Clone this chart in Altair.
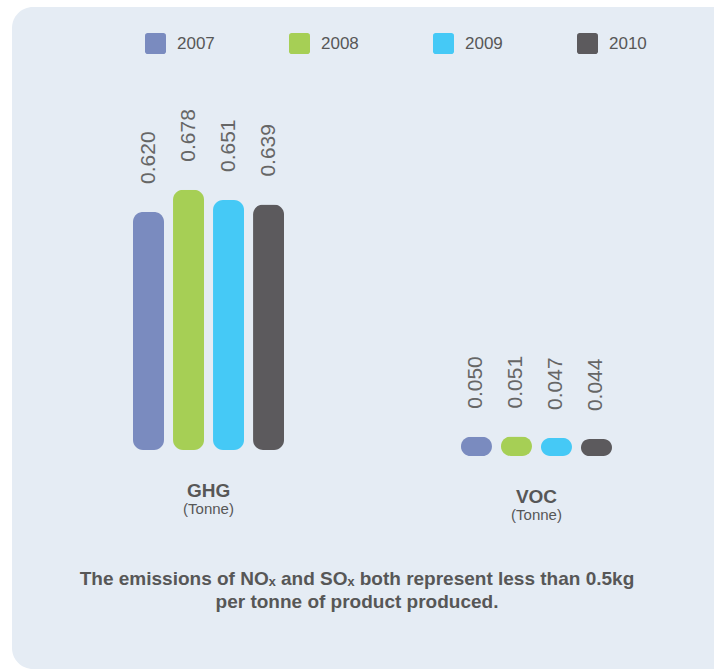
import altair as alt
import pandas as pd

years = ["2007", "2008", "2009", "2010"]
colors = ["#7a8bbf", "#a6cf55", "#45c9f6", "#5c5a5d"]
groups = ["GHG", "VOC"]
units = ["(Tonne)", "(Tonne)"]
ghg_values = [0.620, 0.678, 0.651, 0.639]
voc_values = [0.050, 0.051, 0.047, 0.044]
caption_lines = [
    "The emissions of NOₓ and SOₓ both represent less than 0.5kg",
    "per tonne of product produced.",
]

rows = []
for g, vals in zip(groups, [ghg_values, voc_values]):
    for yr, v in zip(years, vals):
        rows.append({"group": g, "year": yr, "value": v})
df = pd.DataFrame(rows)

SANS = "Liberation Sans, Arial, Helvetica"
TXT = "#575757"

xscale = alt.Scale(domain=groups, range=[128.5, 616.5], paddingInner=0.512, paddingOuter=0)
xoff = alt.Scale(domain=years, paddingInner=0.225, paddingOuter=0.1125)
cscale = alt.Scale(domain=years, range=colors)

legend_path = ("M-0.75,-1H0.75A0.25,0.25 0 0 1 1,-0.75V0.75A0.25,0.25 0 0 1 0.75,1"
               "H-0.75A0.25,0.25 0 0 1 -1,0.75V-0.75A0.25,0.25 0 0 1 -0.75,-1Z")


def group_layer(name, unit, base):
    d = df[df["group"] == name]
    yscale = alt.Scale(domain=[0, 1], range=[base, base - 384], nice=False, zero=True)
    ex = alt.X("group:N", scale=xscale, axis=None)
    exo = alt.XOffset("year:N", scale=xoff)
    ey = alt.Y("value:Q", scale=yscale, axis=None)
    bars = alt.Chart(d).mark_bar(cornerRadius=10).encode(
        x=ex, xOffset=exo, y=ey,
        color=alt.Color("year:N", scale=cscale, legend=alt.Legend(
            title=None, orient="none", legendX=145, legendY=33, direction="horizontal",
            columns=4, padding=0, symbolType=legend_path, symbolSize=441,
            symbolStrokeWidth=0, symbolOpacity=1, labelFont=SANS, labelFontSize=17,
            labelColor=TXT, labelOffset=11, columnPadding=74)),
    )
    vlabels = alt.Chart(d).mark_text(
        angle=270, align="left", baseline="middle", dx=28,
        font=SANS, fontSize=21, color="#666666",
    ).encode(x=ex, xOffset=exo, y=ey, text=alt.Text("value:Q", format=".3f"))
    gd = pd.DataFrame({"group": [name], "unit": [unit]})
    yd = alt.Y(datum=0, type="quantitative", scale=yscale, axis=None)
    gtitle = alt.Chart(gd).mark_text(
        font=SANS, fontSize=19, fontWeight="bold", color=TXT, baseline="alphabetic", dy=47,
    ).encode(x=ex, y=yd, text="group:N")
    gunit = alt.Chart(gd).mark_text(
        font=SANS, fontSize=15, color=TXT, baseline="alphabetic", dy=64,
    ).encode(x=ex, y=yd, text="unit:N")
    return alt.layer(bars, vlabels, gtitle, gunit)


panel = alt.Chart(pd.DataFrame({"p": [0]})).mark_rect(
    fill="#e5ecf4", cornerRadiusTopLeft=21, cornerRadiusBottomLeft=21,
).encode(x=alt.value(12), x2=alt.value(714), y=alt.value(7), y2=alt.value(669))

cap = pd.DataFrame({"line": caption_lines, "i": [0, 1]})
cap1 = alt.Chart(cap[cap["i"] == 0]).mark_text(
    font=SANS, fontSize=19, fontWeight="bold", color=TXT, baseline="alphabetic",
).encode(x=alt.value(357), y=alt.value(585), text="line:N")
cap2 = alt.Chart(cap[cap["i"] == 1]).mark_text(
    font=SANS, fontSize=19, fontWeight="bold", color=TXT, baseline="alphabetic",
).encode(x=alt.value(357), y=alt.value(608), text="line:N")

chart = alt.layer(
    panel,
    group_layer("GHG", units[0], 450),
    group_layer("VOC", units[1], 456),
    cap1, cap2,
).resolve_scale(y="independent").properties(
    width=714, height=669, padding=0,
    autosize=alt.AutoSizeParams(type="none"),
    background="white",
).configure_view(stroke=None)

chart.save("out.html", embed_options={"renderer": "svg", "actions": False})
